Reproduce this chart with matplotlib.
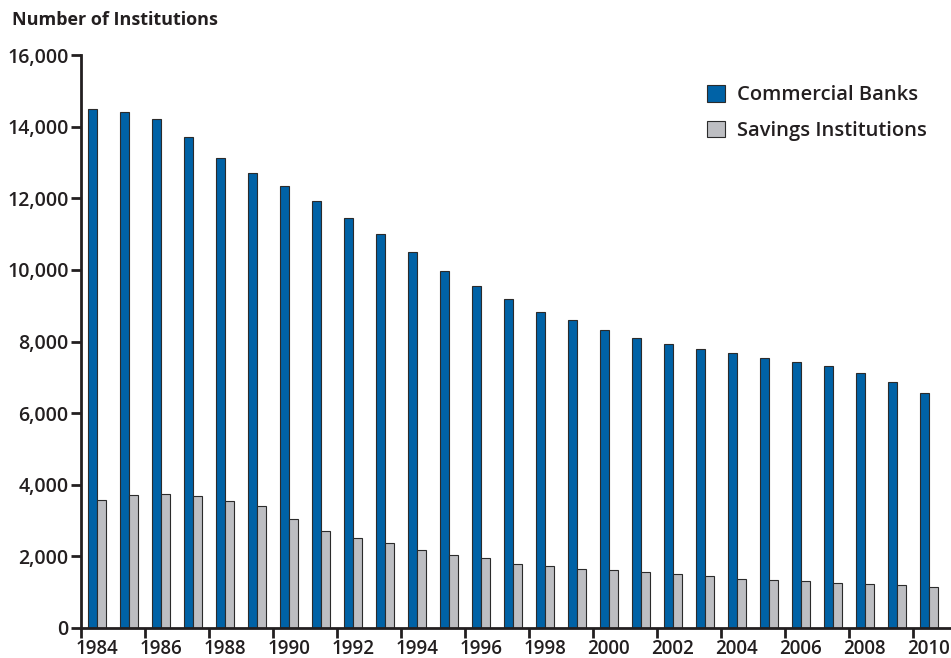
import matplotlib
matplotlib.use("Agg")
import matplotlib.pyplot as plt
import numpy as np
from matplotlib.ticker import FuncFormatter, NullFormatter

years = list(range(1984, 2011))
commercial_banks = [14500, 14420, 14210, 13720, 13120, 12710, 12340, 11920, 11460,
                    11000, 10500, 9970, 9550, 9180, 8830, 8600, 8330, 8110, 7920,
                    7800, 7670, 7550, 7430, 7310, 7120, 6870, 6570]
savings_institutions = [3580, 3700, 3750, 3680, 3540, 3400, 3040, 2700, 2510,
                        2360, 2180, 2050, 1950, 1800, 1720, 1660, 1620, 1550, 1500,
                        1450, 1370, 1330, 1300, 1270, 1240, 1200, 1150]
tick_years = list(range(1984, 2011, 2))

plt.rcParams["font.family"] = ["Open Sans", "DejaVu Sans"]

fig = plt.figure(figsize=(9.51, 6.58), dpi=100)
ax = fig.add_axes([0.0852, 0.0456, 0.9148, 0.8708])

x = np.array(years)
w = 0.28
ax.bar(x + 0.5 - w / 2, commercial_banks, width=w, color="#0062a6",
       edgecolor="#2b2b2b", linewidth=0.8, label="Commercial Banks")
ax.bar(x + 0.5 + w / 2, savings_institutions, width=w, color="#bdbec2",
       edgecolor="#2b2b2b", linewidth=0.8, label="Savings Institutions")

ax.set_xlim(1984, 2011.2)
ax.set_ylim(0, 16000)
ax.set_yticks(range(0, 16001, 2000))
ax.yaxis.set_major_formatter(FuncFormatter(lambda v, p: f"{int(v):,}"))

# tick marks sit at the year boundaries, labels sit under the bar pairs
ax.set_xticks(tick_years)
ax.xaxis.set_major_formatter(NullFormatter())
ax.set_xticks([y + 0.5 for y in tick_years], minor=True)
ax.set_xticklabels([str(y) for y in tick_years], minor=True)

for s in ["top", "right"]:
    ax.spines[s].set_visible(False)
for s in ["left", "bottom"]:
    ax.spines[s].set_linewidth(2)
    ax.spines[s].set_color("#231f20")
ax.tick_params(axis="both", length=7, width=2, color="#231f20",
               labelsize=14, labelcolor="#231f20", pad=2)
ax.tick_params(axis="x", which="minor", length=0, pad=8, labelsize=13.5,
               labelcolor="#231f20")
for lab in ax.get_xticklabels(minor=True) + ax.get_yticklabels():
    lab.set_fontweight("semibold")

leg = ax.legend(loc="upper left", bbox_to_anchor=(0.699, 0.979), frameon=False,
                fontsize=14.5, handlelength=0.9, handleheight=0.9,
                handletextpad=0.6, labelspacing=0.75)
for t in leg.get_texts():
    t.set_fontweight("semibold")
    t.set_color("#231f20")

fig.text(12 / 951, 1 - 20 / 658, "Number of Institutions", fontsize=13,
         fontweight="bold", color="#231f20", va="center", ha="left")

fig.savefig("out.png", dpi=100)
